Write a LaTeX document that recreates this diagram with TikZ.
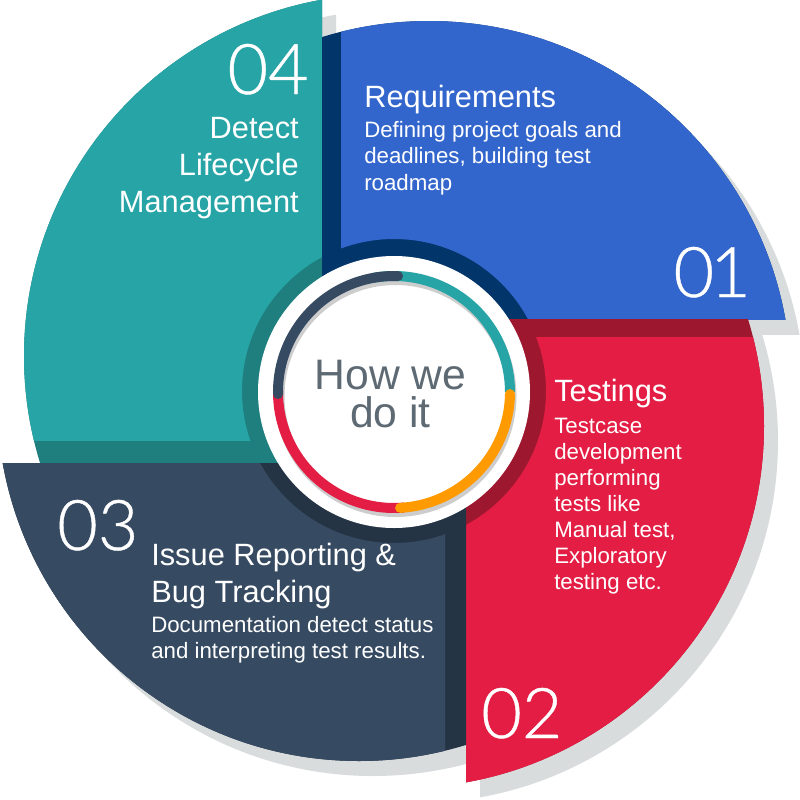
\documentclass[tikz,border=0pt]{standalone}
\usepackage{fontspec}
\setmainfont{Liberation Sans}
\newfontfamily\numfont{Lato Light}[FakeBold=0.6]
\definecolor{tealA}{HTML}{27A4A6}
\definecolor{tealB}{HTML}{1F7F7F}
\definecolor{blueA}{HTML}{3366CC}
\definecolor{blueB}{HTML}{02356A}
\definecolor{redA}{HTML}{E31D43}
\definecolor{redB}{HTML}{9D182F}
\definecolor{navyA}{HTML}{364A61}
\definecolor{navyB}{HTML}{253445}
\definecolor{orangeA}{HTML}{FF9A00}
\definecolor{shadowgray}{HTML}{D9DCDD}
\definecolor{ringshadow}{HTML}{CDCDCD}
\definecolor{centergray}{HTML}{5E6A73}
\begin{document}
\begin{tikzpicture}[x=0.75pt,y=-0.75pt,
  txt/.style={text=white,inner sep=0pt},
  headtext/.style={txt,font=\fontsize{23.1}{27}\selectfont},
  bodytext/.style={txt,font=\fontsize{16.7}{20}\selectfont},
  bignum/.style={txt,font=\numfont\fontsize{52.5}{60}\selectfont},
  ringarc/.style={line width=7.5pt},
  capped/.style={ringarc,line cap=round}]
\useasboundingbox (0,0) rectangle (800,800);
\fill[white] (0,0) rectangle (800,800);

% drop shadows of the four segments
\begin{scope}[shift={(14,15)}]
  \begin{scope}\clip (322,-100) rectangle (900,319); \fill[shadowgray] (429,383) circle[radius=362]; \end{scope}
  \begin{scope}\clip (466,319) rectangle (900,900); \fill[shadowgray] (402,426) circle[radius=362]; \end{scope}
  \begin{scope}\clip (-100,463) rectangle (466,900); \fill[shadowgray] (359,399) circle[radius=362]; \end{scope}
  \begin{scope}\clip (-100,-100) rectangle (322,463); \fill[shadowgray] (386,356) circle[radius=362]; \end{scope}
\end{scope}

% segment 04 (teal)
\begin{scope}\clip (-100,-100) rectangle (322,463); \fill[tealB] (386,356) circle[radius=362]; \end{scope}
\begin{scope}\clip (-100,-100) rectangle (322,440);
  \fill[tealA,even odd rule] (386,356) circle[radius=362] (394,391) circle[radius=152]; \end{scope}
% segment 01 (blue)
\begin{scope}\clip (322,-100) rectangle (900,319); \fill[blueB] (429,383) circle[radius=362]; \end{scope}
\begin{scope}\clip (341,-100) rectangle (900,319);
  \fill[blueA,even odd rule] (429,383) circle[radius=362] (394,391) circle[radius=152]; \end{scope}
% segment 02 (red)
\begin{scope}\clip (466,319) rectangle (900,900); \fill[redB] (402,426) circle[radius=362]; \end{scope}
\begin{scope}\clip (466,337) rectangle (900,900);
  \fill[redA,even odd rule] (402,426) circle[radius=362] (394,391) circle[radius=152]; \end{scope}
% segment 03 (navy)
\begin{scope}\clip (-100,463) rectangle (466,900); \fill[navyB] (359,399) circle[radius=362]; \end{scope}
\begin{scope}\clip (-100,463) rectangle (445,900);
  \fill[navyA,even odd rule] (359,399) circle[radius=362] (394,391) circle[radius=152]; \end{scope}

% central disc with the coloured progress ring
\node[circle,fill=white,minimum size=204pt,inner sep=0pt] (hub) at (394,392) {};
\draw[ringarc,ringshadow] (395.5,396) circle[radius=116];
\draw[ringarc,tealA] (hub.center) ++(-100:116) arc[start angle=-100,end angle=0,radius=116];
\draw[ringarc,redA] (hub.center) ++(85:116) arc[start angle=85,end angle=181,radius=116];
\draw[capped,orangeA] (hub.center) ++(1:116) arc[start angle=1,end angle=87,radius=116];
\draw[capped,navyA] (hub.center) ++(-181:116) arc[start angle=-181,end angle=-88,radius=116];
\node[font=\fontsize{32}{28.5}\selectfont,text=centergray,inner sep=0pt,align=center,anchor=north]
  (howwe) at (390.5,360.2) {How we\\do it};

% 01
\node[headtext,anchor=base west] (h1) at (364,107) {Requirements};
\node[bodytext,anchor=base west] (b1a) at (364,137) {Defining project goals and};
\node[bodytext,anchor=base west] (b1b) at (364,163.5) {deadlines, building test};
\node[bodytext,anchor=base west] (b1c) at (364,190) {roadmap};
\node[bignum,anchor=base east] (n1) at (751,297) {0\kern-3pt1};

% 02
\node[headtext,anchor=base west] (h2) at (554,401) {Testings};
\node[bodytext,anchor=base west] (b2a) at (554,433) {Testcase};
\node[bodytext,anchor=base west] (b2b) at (554,459) {development};
\node[bodytext,anchor=base west] (b2c) at (554,485) {performing};
\node[bodytext,anchor=base west] (b2d) at (554,511.5) {tests like};
\node[bodytext,anchor=base west] (b2e) at (554,537.5) {Manual test,};
\node[bodytext,anchor=base west] (b2f) at (554,563) {Exploratory};
\node[bodytext,anchor=base west] (b2g) at (554,589) {testing etc.};
\node[bignum,anchor=base west] (n2) at (481,738) {02};

% 03
\node[bignum,anchor=base west] (n3) at (57,550) {03};
\node[headtext,anchor=base west] (h3a) at (151,565) {Issue Reporting \&};
\node[headtext,anchor=base west] (h3b) at (151,602) {Bug Tracking};
\node[bodytext,anchor=base west] (b3a) at (151,632) {Documentation detect status};
\node[bodytext,anchor=base west] (b3b) at (151,658) {and interpreting test results.};

% 04
\node[bignum,anchor=base east] (n4) at (309,94) {04};
\node[headtext,anchor=base east] (h4a) at (299,138) {Detect};
\node[headtext,anchor=base east] (h4b) at (299,175) {Lifecycle};
\node[headtext,anchor=base east] (h4c) at (299,212) {Management};
\end{tikzpicture}
\end{document}
